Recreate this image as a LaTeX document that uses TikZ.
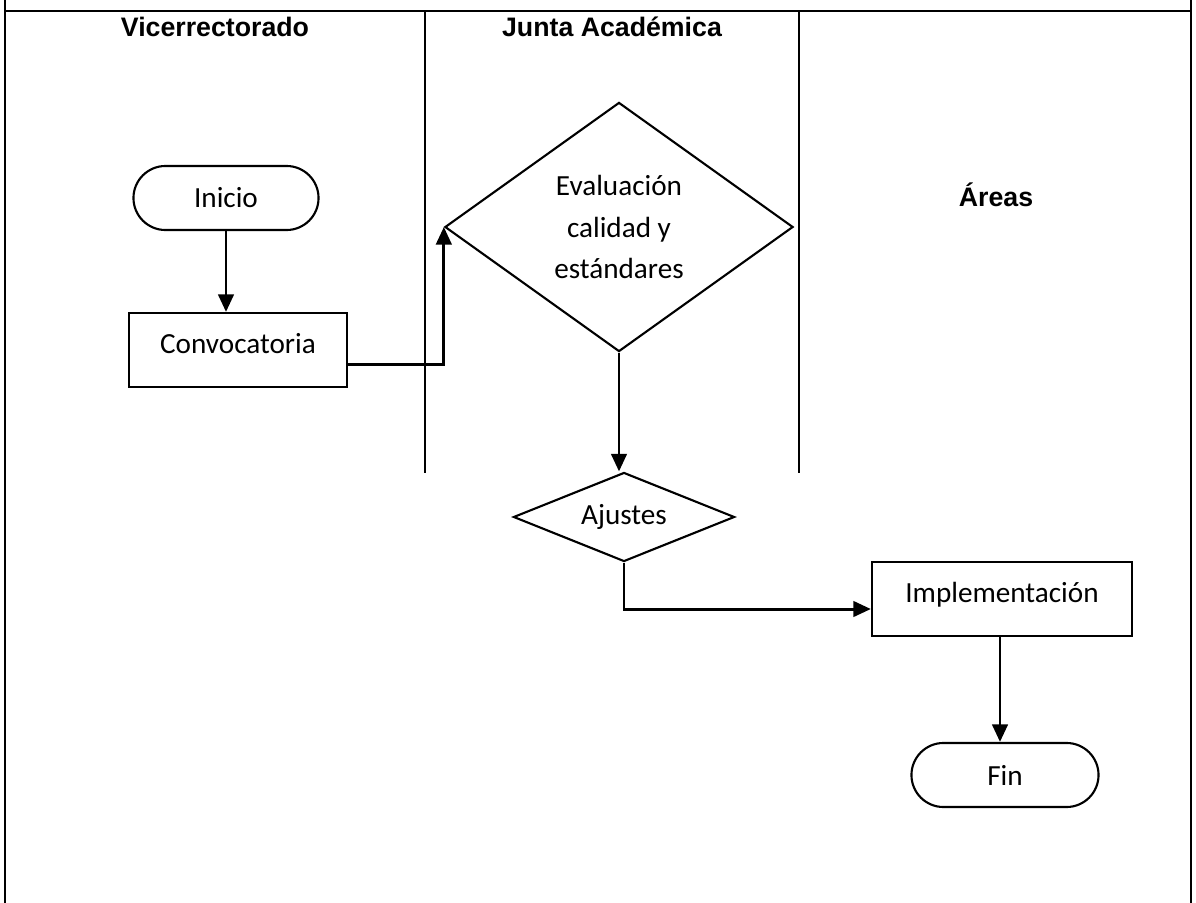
\documentclass[tikz,border=0pt]{standalone}
\usepackage{fontspec}
\setmainfont{Carlito}
\newfontfamily\hdrfont{Liberation Sans}
\usetikzlibrary{shapes.geometric,shapes.misc,arrows.meta}
\begin{document}
\begin{tikzpicture}[x=0.01cm,y=-0.01cm,
  frameline/.style={line width=0.8pt,black},
  hdr/.style={font=\hdrfont\bfseries\fontsize{7.6}{9}\selectfont,inner sep=0pt},
  lbl/.style={font=\fontsize{8.3}{11.7}\selectfont},
  procbox/.style={draw,line width=0.6pt,rectangle,lbl,inner sep=1pt,text depth=4pt},
  termbox/.style={draw,line width=0.6pt,rounded rectangle,lbl,inner sep=1pt},
  decbox/.style={draw,line width=0.6pt,diamond,lbl,inner sep=0pt,align=center},
  flow/.style={line width=0.85pt,-{Triangle[length=5pt,width=4.4pt]}}
]
\useasboundingbox (0,0) rectangle (1196,903);
% frame
\draw[frameline] (5,0) -- (5,903);
\draw[frameline] (1191,0) -- (1191,903);
\draw[frameline] (5,11) -- (1191,11);
\draw[line width=0.6pt] (425,11) -- (425,473);
\draw[line width=0.6pt] (799,11) -- (799,473);
% headers
\node[hdr] (h1) at (215,27) {Vicerrectorado};
\node[hdr] (h2) at (612,27) {Junta Académica};
\node[hdr] (h3) at (996,195) {Áreas};
% nodes
\node[termbox,minimum width=1.92cm,minimum height=0.64cm] (inicio) at (226,198) {Inicio};
\node[procbox,minimum width=2.17cm,minimum height=0.74cm] (conv) at (238,350) {Convocatoria};
\node[decbox,aspect=1.4,minimum width=3.48cm,minimum height=2.49cm] (eval) at (619,227) {Evaluación\\calidad y\\estándares};
\node[decbox,aspect=2.48,minimum width=2.21cm,minimum height=0.89cm] (aj) at (624,517) {Ajustes};
\node[procbox,minimum width=2.60cm,minimum height=0.74cm] (impl) at (1002,599) {Implementación};
\node[termbox,minimum width=1.94cm,minimum height=0.64cm] (fin) at (1005,775) {Fin};
% connectors
\draw[flow] (inicio.south) -- (inicio.south |- conv.north);
\draw[flow] ([yshift=-0.14cm]conv.east) -| (eval.west);
\draw[flow] (eval.south) -- (eval.south |- aj.north);
\draw[flow] (aj.south) |- ([yshift=-0.10cm]impl.west);
\draw[flow] ([xshift=-0.02cm]impl.south) -- ([xshift=-0.02cm]impl.south |- fin.north);
\end{tikzpicture}
\end{document}
